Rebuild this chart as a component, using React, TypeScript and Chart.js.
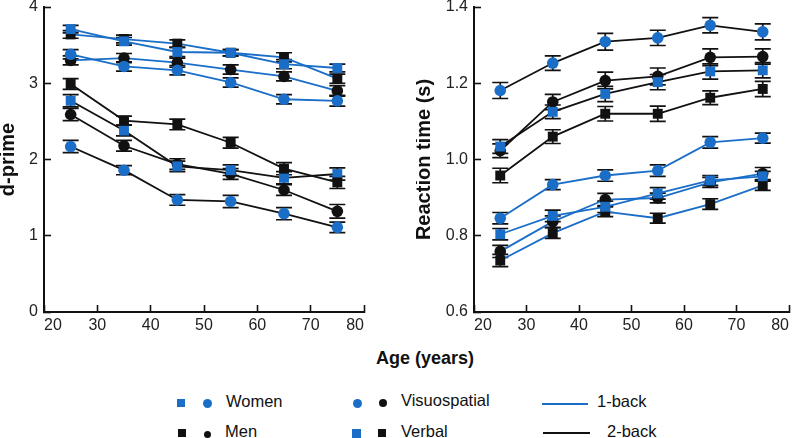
import React, { useEffect, useRef } from "react";
import { Chart, registerables } from "chart.js";

Chart.register(...registerables);

const FONT = "'Liberation Sans', Arial, Helvetica, sans-serif";
const BLUE = "#1a6ec8";
const BLACK = "#111111";

// Age groups (x positions)
const ages = [25, 35, 45, 55, 65, 75];

// d-prime (left panel)
const dWomenVerbal1 = [3.71, 3.55, 3.41, 3.40, 3.25, 3.20];
const dMenVerbal1 = [3.64, 3.58, 3.52, 3.40, 3.34, 3.06];
const dWomenVisuo1 = [3.38, 3.22, 3.17, 3.01, 2.79, 2.77];
const dMenVisuo1 = [3.30, 3.33, 3.27, 3.18, 3.09, 2.90];
const dMenVerbal2 = [2.99, 2.51, 2.46, 2.22, 1.88, 1.70];
const dWomenVerbal2 = [2.77, 2.38, 1.91, 1.86, 1.76, 1.81];
const dMenVisuo2 = [2.59, 2.18, 1.94, 1.81, 1.60, 1.32];
const dWomenVisuo2 = [2.17, 1.86, 1.47, 1.45, 1.29, 1.11];

const dErrWomenVerbal1 = [0.05, 0.05, 0.06, 0.04, 0.06, 0.05];
const dErrMenVerbal1 = [0.05, 0.05, 0.05, 0.04, 0.06, 0.06];
const dErrWomenVisuo1 = [0.06, 0.06, 0.06, 0.06, 0.06, 0.07];
const dErrMenVisuo1 = [0.06, 0.06, 0.06, 0.06, 0.06, 0.07];
const dErrMenVerbal2 = [0.07, 0.06, 0.07, 0.07, 0.08, 0.08];
const dErrWomenVerbal2 = [0.08, 0.07, 0.07, 0.07, 0.08, 0.08];
const dErrMenVisuo2 = [0.08, 0.07, 0.07, 0.07, 0.07, 0.09];
const dErrWomenVisuo2 = [0.08, 0.06, 0.07, 0.08, 0.08, 0.07];

// Reaction time (right panel)
const rWomenVisuo2 = [1.181, 1.253, 1.309, 1.319, 1.352, 1.335];
const rMenVisuo2 = [1.023, 1.151, 1.207, 1.218, 1.268, 1.270];
const rWomenVerbal2 = [1.034, 1.125, 1.172, 1.203, 1.231, 1.234];
const rMenVerbal2 = [0.958, 1.060, 1.120, 1.120, 1.162, 1.185];
const rWomenVisuo1 = [0.846, 0.934, 0.958, 0.971, 1.045, 1.056];
const rWomenVerbal1 = [0.804, 0.852, 0.876, 0.911, 0.945, 0.956];
const rMenVisuo1 = [0.759, 0.837, 0.895, 0.899, 0.940, 0.963];
const rMenVerbal1 = [0.735, 0.807, 0.863, 0.846, 0.883, 0.932];

const rErrWomenVisuo2 = [0.021, 0.019, 0.022, 0.02, 0.02, 0.021];
const rErrMenVisuo2 = [0.018, 0.02, 0.022, 0.022, 0.022, 0.02];
const rErrWomenVerbal2 = [0.018, 0.018, 0.02, 0.02, 0.02, 0.02];
const rErrMenVerbal2 = [0.019, 0.018, 0.019, 0.02, 0.018, 0.02];
const rErrWomenVisuo1 = [0.015, 0.013, 0.015, 0.015, 0.015, 0.013];
const rErrWomenVerbal1 = [0.015, 0.015, 0.015, 0.015, 0.013, 0.013];
const rErrMenVisuo1 = [0.016, 0.015, 0.016, 0.013, 0.013, 0.016];
const rErrMenVerbal1 = [0.016, 0.014, 0.013, 0.013, 0.014, 0.013];

const dTicks = [0, 1, 2, 3, 4];
const rTicks = [0.6, 0.8, 1.0, 1.2, 1.4];

function makeSeries(label: string, values: number[], errors: number[], women: boolean, verbal: boolean, oneBack: boolean) {
  const mc = women ? BLUE : BLACK;
  return {
    label,
    data: ages.map((a, i) => ({ x: a, y: values[i] })),
    errors,
    borderColor: oneBack ? BLUE : BLACK,
    borderWidth: 1.8,
    backgroundColor: mc,
    pointBackgroundColor: mc,
    pointBorderColor: mc,
    pointBorderWidth: 0,
    pointStyle: verbal ? "rect" : "circle",
    pointRadius: verbal ? 7 : 5.8,
    tension: 0,
    fill: false,
  };
}

const errorBarPlugin = {
  id: "errorBars",
  beforeDatasetsDraw(chart: any) {
    const ctx = chart.ctx;
    const yScale = chart.scales.y;
    ctx.save();
    ctx.strokeStyle = BLACK;
    ctx.lineWidth = 1.7;
    chart.data.datasets.forEach((ds: any, i: number) => {
      const meta = chart.getDatasetMeta(i);
      meta.data.forEach((pt: any, j: number) => {
        const v = ds.data[j].y;
        const e = ds.errors[j];
        const yTop = yScale.getPixelForValue(v + e);
        const yBot = yScale.getPixelForValue(v - e);
        const x = pt.x;
        ctx.beginPath();
        ctx.moveTo(x, yTop);
        ctx.lineTo(x, yBot);
        ctx.moveTo(x - 8, yTop);
        ctx.lineTo(x + 8, yTop);
        ctx.moveTo(x - 8, yBot);
        ctx.lineTo(x + 8, yBot);
        ctx.stroke();
      });
    });
    ctx.restore();
  },
};

type PanelProps = {
  datasets: any[];
  ticks: number[];
  yTitle: string;
  yWidth: number;
  decimals: number;
  left: number;
  width: number;
  padRight: number;
};

const HEIGHT = 345;

function Panel({ datasets, ticks, yTitle, yWidth, decimals, left, width, padRight }: PanelProps) {
  const ref = useRef<HTMLCanvasElement | null>(null);
  useEffect(() => {
    if (!ref.current) return;
    const chart = new Chart(ref.current, {
      type: "line",
      data: { datasets },
      plugins: [errorBarPlugin],
      options: {
        animation: false,
        responsive: false,
        devicePixelRatio: 1,
        layout: { padding: { top: 5, right: padRight, left: 0, bottom: 0 } },
        plugins: { legend: { display: false }, tooltip: { enabled: false } },
        scales: {
          x: {
            type: "linear",
            min: 20,
            max: 80,
            border: { display: true, color: BLACK, width: 2 },
            grid: { drawOnChartArea: false, drawTicks: true, tickLength: -7, tickColor: BLACK, tickWidth: 1.6 },
            ticks: { stepSize: 10, align: "inner", padding: 11, color: "#222", font: { size: 16, family: FONT } },
            afterFit: (s: any) => {
              s.height = HEIGHT - 312;
              s.paddingLeft = 0;
              s.paddingRight = 0;
            },
          },
          y: {
            type: "linear",
            min: ticks[0],
            max: ticks[ticks.length - 1],
            border: { display: true, color: BLACK, width: 2 },
            grid: { drawOnChartArea: false, drawTicks: true, tickLength: -7, tickColor: BLACK, tickWidth: 1.6 },
            title: {
              display: true,
              text: yTitle,
              color: BLACK,
              padding: { top: -2, bottom: 0 },
              font: { size: 20, weight: "bold", family: FONT, lineHeight: 1 },
            },
            afterBuildTicks: (s: any) => {
              s.ticks = ticks.map((v) => ({ value: v }));
            },
            ticks: {
              padding: 13,
              color: "#222",
              font: { size: 16, family: FONT },
              callback: (v: any) => Number(v).toFixed(decimals),
            },
            afterFit: (s: any) => {
              s.width = yWidth;
              s.paddingTop = 0;
              s.paddingBottom = 0;
            },
          },
        },
      } as any,
    });
    return () => chart.destroy();
  }, []);
  return (
    <canvas
      ref={ref}
      width={width}
      height={HEIGHT}
      style={{ position: "absolute", left, top: 0, width, height: HEIGHT }}
    />
  );
}

const textStyle: React.CSSProperties = {
  position: "absolute",
  fontFamily: FONT,
  fontSize: 16.5,
  color: BLACK,
  lineHeight: "20px",
  whiteSpace: "nowrap",
};

function Sq({ cx, cy, s, c }: { cx: number; cy: number; s: number; c: string }) {
  return <div style={{ position: "absolute", left: cx - s / 2, top: cy - s / 2, width: s, height: s, background: c }} />;
}
function Dot({ cx, cy, d, c }: { cx: number; cy: number; d: number; c: string }) {
  return <div style={{ position: "absolute", left: cx - d / 2, top: cy - d / 2, width: d, height: d, borderRadius: "50%", background: c }} />;
}
function Ln({ x1, x2, y, c }: { x1: number; x2: number; y: number; c: string }) {
  return <div style={{ position: "absolute", left: x1, top: y - 1, width: x2 - x1, height: 1.6, background: c }} />;
}
function Txt({ x, cy, t }: { x: number; cy: number; t: string }) {
  return <div style={{ ...textStyle, left: x, top: cy - 10 }}>{t}</div>;
}

export default function App() {
  const leftSets = [
    makeSeries("Women verbal 1-back", dWomenVerbal1, dErrWomenVerbal1, true, true, true),
    makeSeries("Men verbal 1-back", dMenVerbal1, dErrMenVerbal1, false, true, true),
    makeSeries("Women visuospatial 1-back", dWomenVisuo1, dErrWomenVisuo1, true, false, true),
    makeSeries("Men visuospatial 1-back", dMenVisuo1, dErrMenVisuo1, false, false, true),
    makeSeries("Men verbal 2-back", dMenVerbal2, dErrMenVerbal2, false, true, false),
    makeSeries("Women verbal 2-back", dWomenVerbal2, dErrWomenVerbal2, true, true, false),
    makeSeries("Men visuospatial 2-back", dMenVisuo2, dErrMenVisuo2, false, false, false),
    makeSeries("Women visuospatial 2-back", dWomenVisuo2, dErrWomenVisuo2, true, false, false),
  ];
  const rightSets = [
    makeSeries("Women visuospatial 2-back", rWomenVisuo2, rErrWomenVisuo2, true, false, false),
    makeSeries("Women verbal 2-back", rWomenVerbal2, rErrWomenVerbal2, true, true, false),
    makeSeries("Men visuospatial 2-back", rMenVisuo2, rErrMenVisuo2, false, false, false),
    makeSeries("Men verbal 2-back", rMenVerbal2, rErrMenVerbal2, false, true, false),
    makeSeries("Women visuospatial 1-back", rWomenVisuo1, rErrWomenVisuo1, true, false, true),
    makeSeries("Women verbal 1-back", rWomenVerbal1, rErrWomenVerbal1, true, true, true),
    makeSeries("Men visuospatial 1-back", rMenVisuo1, rErrMenVisuo1, false, false, true),
    makeSeries("Men verbal 1-back", rMenVerbal1, rErrMenVerbal1, false, true, true),
  ];
  return (
    <div style={{ position: "absolute", left: 0, top: 0, width: 796, height: 438, background: "#fff", overflow: "hidden" }}>
      <Panel datasets={leftSets} ticks={dTicks} yTitle="d-prime" yWidth={44} decimals={0} left={0} width={380} padRight={16} />
      <Panel datasets={rightSets} ticks={rTicks} yTitle="Reaction time (s)" yWidth={58} decimals={1} left={416} width={380} padRight={3} />
      <div style={{ ...textStyle, fontSize: 18, fontWeight: "bold", left: 325, width: 200, textAlign: "center", top: 347, lineHeight: "22px" }}>
        Age (years)
      </div>
      {/* Legend */}
      <Sq cx={181} cy={403} s={8} c={BLUE} />
      <Dot cx={207} cy={403} d={9} c={BLUE} />
      <Txt x={226} cy={401} t="Women" />
      <Sq cx={182} cy={433} s={8} c={BLACK} />
      <Dot cx={207} cy={434} d={7} c={BLACK} />
      <Txt x={225} cy={431} t="Men" />
      <Dot cx={357} cy={403} d={9} c={BLUE} />
      <Dot cx={383} cy={403} d={8} c={BLACK} />
      <Txt x={401} cy={400} t="Visuospatial" />
      <Sq cx={356} cy={433} s={9} c={BLUE} />
      <Sq cx={382} cy={433} s={8} c={BLACK} />
      <Txt x={401} cy={431} t="Verbal" />
      <Ln x1={542} x2={588} y={404} c={BLUE} />
      <Txt x={597} cy={401} t="1-back" />
      <Ln x1={543} x2={590} y={433} c={BLACK} />
      <Txt x={607} cy={431} t="2-back" />
    </div>
  );
}
